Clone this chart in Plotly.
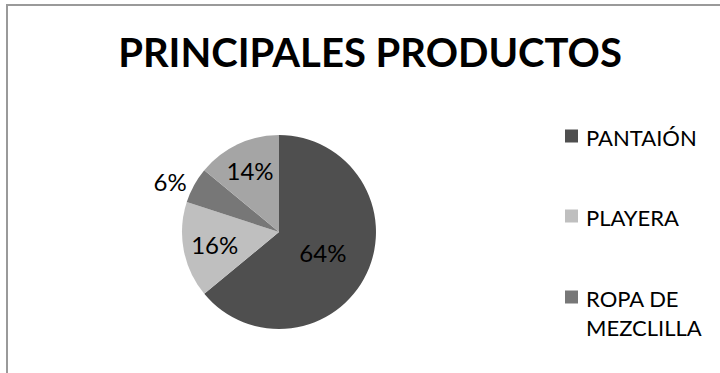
import plotly.graph_objects as go

# datos
productos = ["PANTAIÓN", "PLAYERA", "ROPA DE<br>MEZCLILLA", "OTROS"]
porcentajes = [64, 16, 6, 14]
colores = ["#4f4f4f", "#bfbfbf", "#777777", "#a5a5a5"]
posicion_texto = ["inside", "inside", "outside", "inside"]
leyenda = productos[:3]  # la cuarta entrada queda fuera del recuadro

FUENTE = "Lato"

fig = go.Figure(go.Pie(
    labels=productos,
    values=porcentajes,
    marker=dict(colors=colores, line=dict(width=0)),
    sort=False,
    direction="clockwise",
    rotation=0,
    textinfo="percent",
    textposition=posicion_texto,
    insidetextorientation="horizontal",
    textfont=dict(family=FUENTE, size=24, color="#000000"),
    showlegend=False,
    domain=dict(x=[0.2528, 0.5222], y=[0.118, 0.638]),
))

# leyenda dibujada a mano (solo se ven tres entradas)
ys = [136, 216, 297]
for nombre, color, yc in zip(leyenda, colores, ys):
    fig.add_shape(type="rect", xref="paper", yref="paper",
                  x0=565 / 720, x1=578 / 720,
                  y0=1 - (yc + 6.5) / 373, y1=1 - (yc - 6.5) / 373,
                  line=dict(width=0), fillcolor=color)
    fig.add_annotation(text=nombre, xref="paper", yref="paper",
                       x=584 / 720, y=1 - (yc - 14) / 373,
                       xanchor="left", yanchor="top", align="left",
                       showarrow=False,
                       font=dict(family=FUENTE, size=22, color="#000000"))

# marco del gráfico
fig.add_shape(type="rect", xref="paper", yref="paper",
              x0=7 / 720, x1=1.05, y0=-0.05, y1=1 - 5 / 373,
              line=dict(color="#9a9a9a", width=2))

fig.update_layout(
    title=dict(text="<b>PRINCIPALES PRODUCTOS</b>",
               x=370 / 720, xanchor="center",
               y=1 - 53 / 373, yanchor="middle",
               font=dict(family=FUENTE, size=40, color="#000000")),
    width=720, height=373,
    margin=dict(l=0, r=0, t=0, b=0),
    paper_bgcolor="#ffffff",
)

fig.write_html("out.html", config={"displayModeBar": False},
               post_script="document.body.style.margin='0';")
